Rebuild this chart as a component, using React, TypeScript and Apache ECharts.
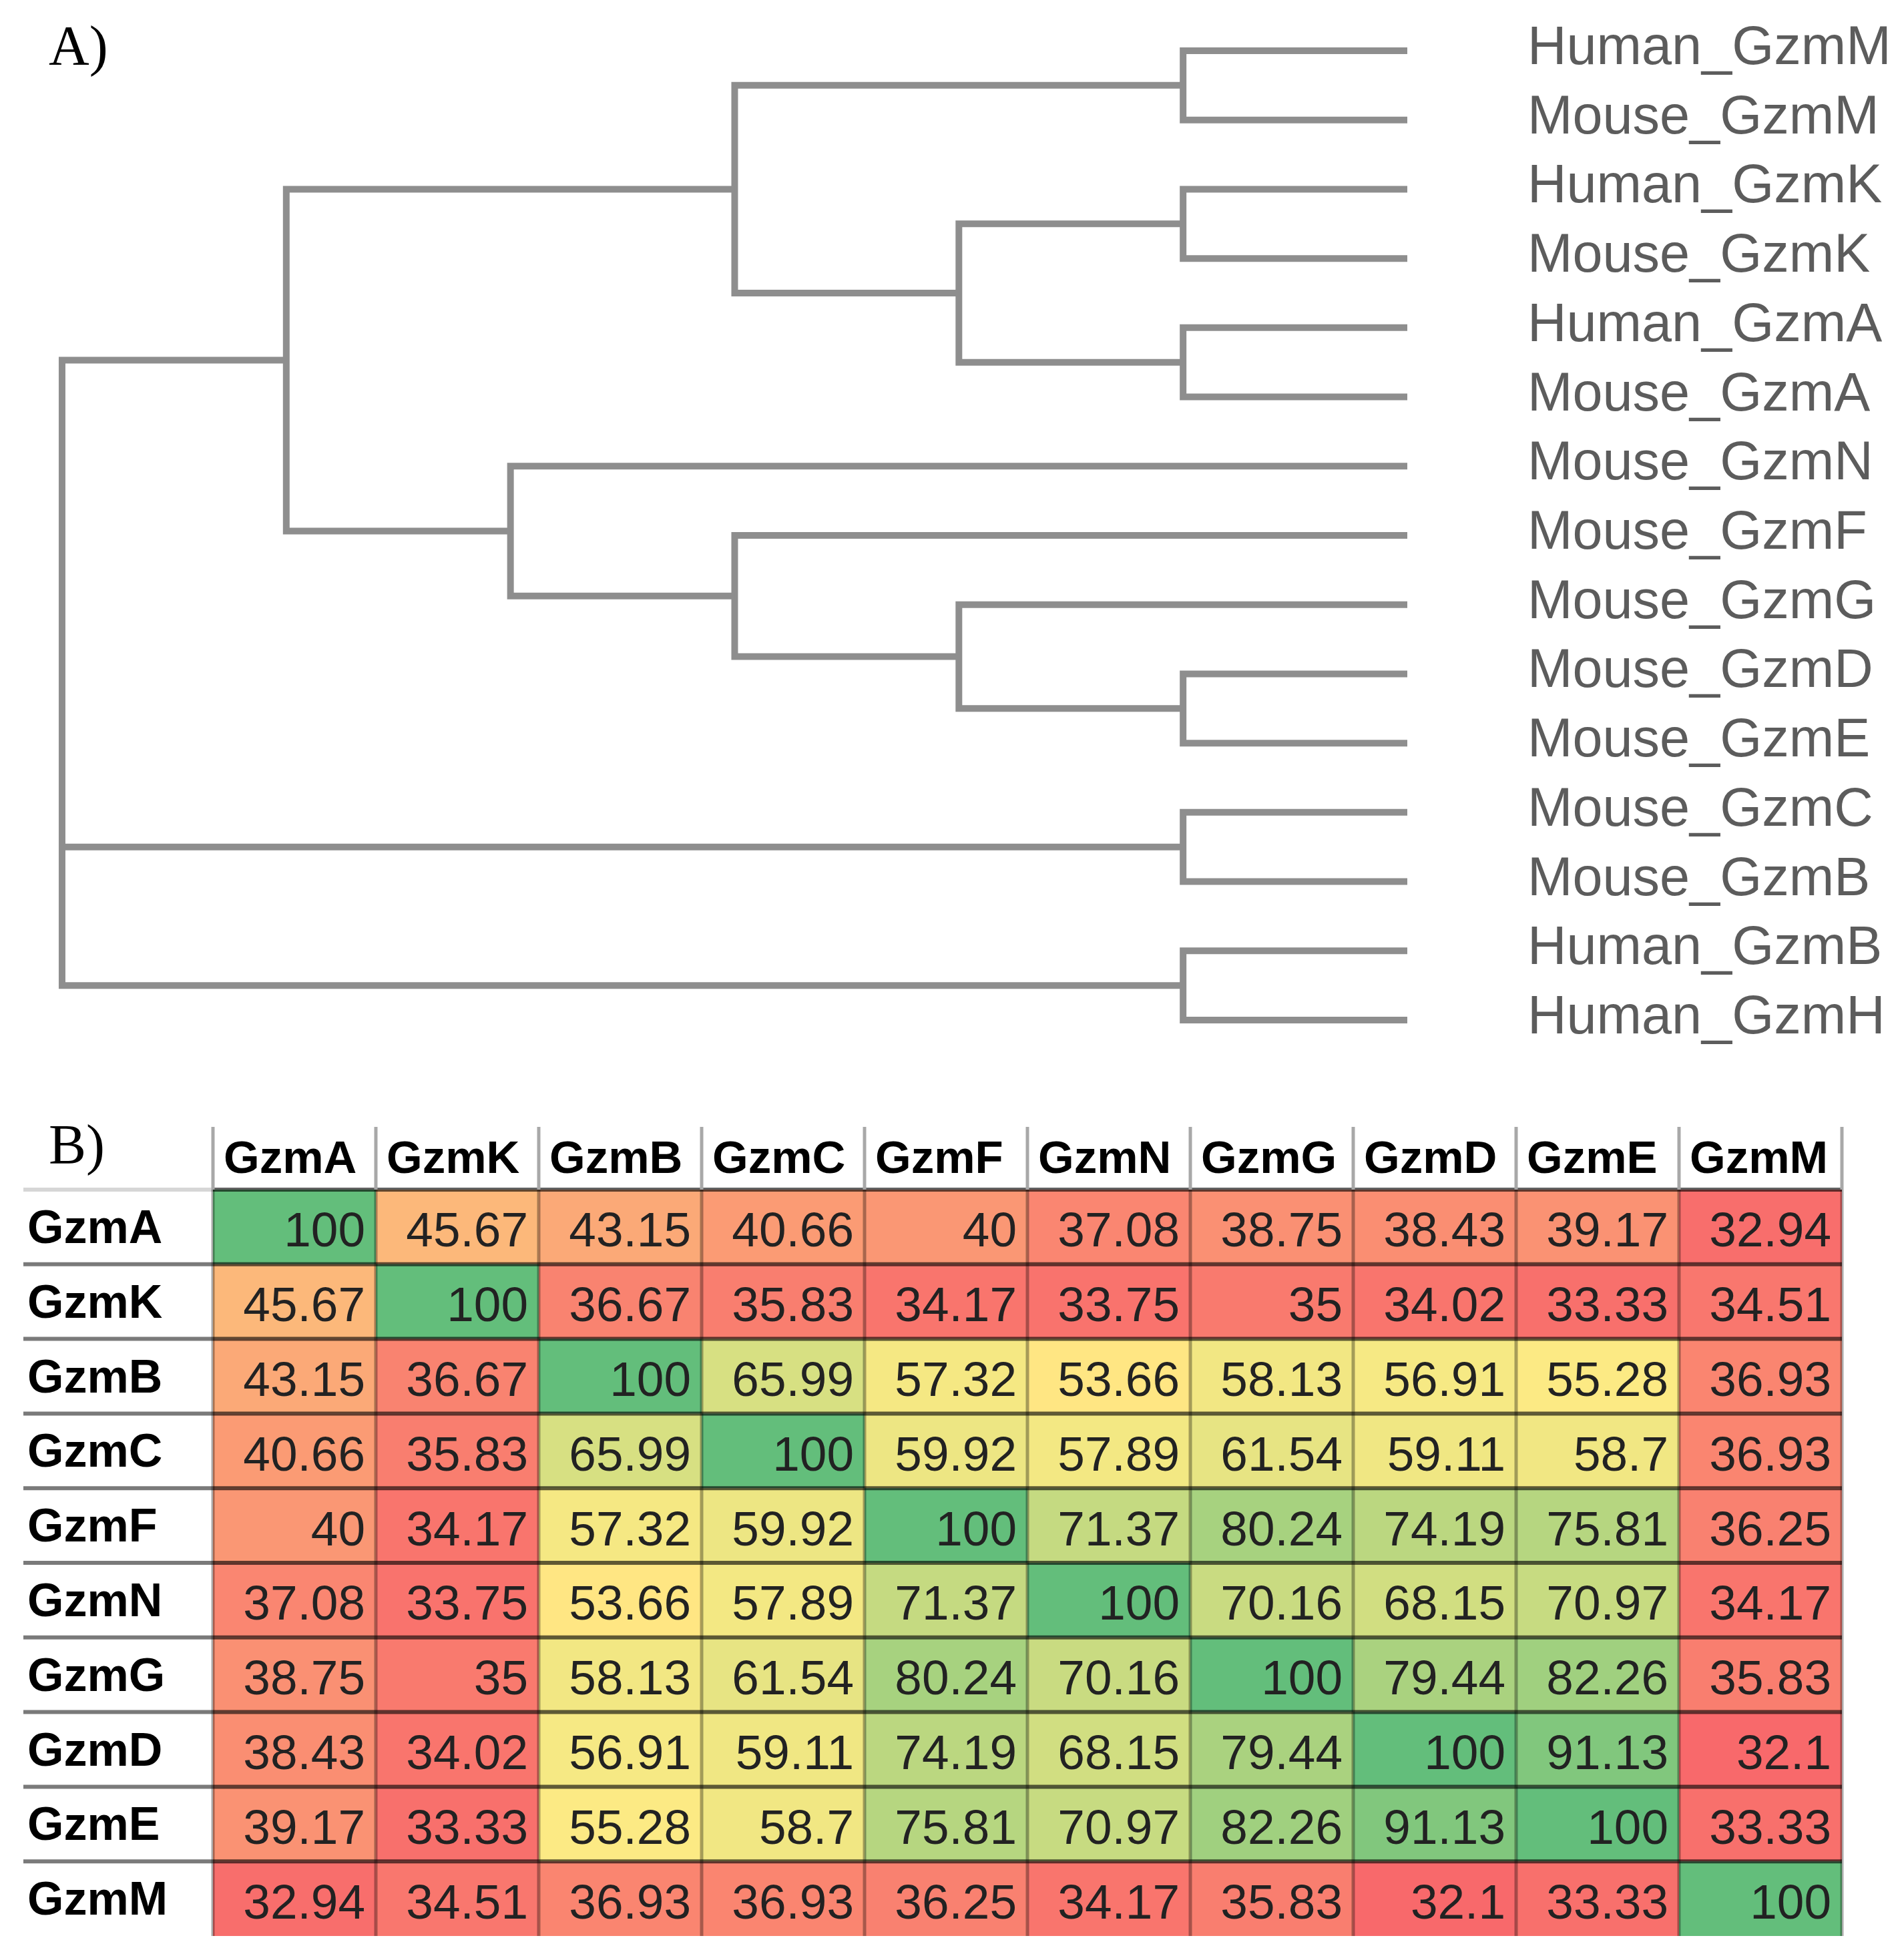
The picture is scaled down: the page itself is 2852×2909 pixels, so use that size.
import React, { useEffect, useRef } from "react";
import * as echarts from "echarts";

// ---------- Dendrogram data ----------
const leaves = [
  "Human_GzmM",
  "Mouse_GzmM",
  "Human_GzmK",
  "Mouse_GzmK",
  "Human_GzmA",
  "Mouse_GzmA",
  "Mouse_GzmN",
  "Mouse_GzmF",
  "Mouse_GzmG",
  "Mouse_GzmD",
  "Mouse_GzmE",
  "Mouse_GzmC",
  "Mouse_GzmB",
  "Human_GzmB",
  "Human_GzmH",
];

// [node name, children, merge height]
const merges: [string, string[], number][] = [
  ["n1", ["Human_GzmM", "Mouse_GzmM"], 1],
  ["n2", ["Human_GzmK", "Mouse_GzmK"], 1],
  ["n3", ["Human_GzmA", "Mouse_GzmA"], 1],
  ["n4", ["n2", "n3"], 2],
  ["n5", ["n1", "n4"], 3],
  ["n6", ["Mouse_GzmD", "Mouse_GzmE"], 1],
  ["n7", ["Mouse_GzmG", "n6"], 2],
  ["n8", ["Mouse_GzmF", "n7"], 3],
  ["n9", ["Mouse_GzmN", "n8"], 4],
  ["n10", ["n5", "n9"], 5],
  ["n11", ["Mouse_GzmC", "Mouse_GzmB"], 1],
  ["n12", ["Human_GzmB", "Human_GzmH"], 1],
  ["root", ["n10", "n11", "n12"], 6],
];

// ---------- Identity matrix data ----------
const columns = ["GzmA", "GzmK", "GzmB", "GzmC", "GzmF", "GzmN", "GzmG", "GzmD", "GzmE", "GzmM"];
const rowLabels = ["GzmA", "GzmK", "GzmB", "GzmC", "GzmF", "GzmN", "GzmG", "GzmD", "GzmE", "GzmM"];

const rowGzmA = [100, 45.67, 43.15, 40.66, 40, 37.08, 38.75, 38.43, 39.17, 32.94];
const rowGzmK = [45.67, 100, 36.67, 35.83, 34.17, 33.75, 35, 34.02, 33.33, 34.51];
const rowGzmB = [43.15, 36.67, 100, 65.99, 57.32, 53.66, 58.13, 56.91, 55.28, 36.93];
const rowGzmC = [40.66, 35.83, 65.99, 100, 59.92, 57.89, 61.54, 59.11, 58.7, 36.93];
const rowGzmF = [40, 34.17, 57.32, 59.92, 100, 71.37, 80.24, 74.19, 75.81, 36.25];
const rowGzmN = [37.08, 33.75, 53.66, 57.89, 71.37, 100, 70.16, 68.15, 70.97, 34.17];
const rowGzmG = [38.75, 35, 58.13, 61.54, 80.24, 70.16, 100, 79.44, 82.26, 35.83];
const rowGzmD = [38.43, 34.02, 56.91, 59.11, 74.19, 68.15, 79.44, 100, 91.13, 32.1];
const rowGzmE = [39.17, 33.33, 55.28, 58.7, 75.81, 70.97, 82.26, 91.13, 100, 33.33];
const rowGzmM = [32.94, 34.51, 36.93, 36.93, 36.25, 34.17, 35.83, 32.1, 33.33, 100];

const matrix = [rowGzmA, rowGzmK, rowGzmB, rowGzmC, rowGzmF, rowGzmN, rowGzmG, rowGzmD, rowGzmE, rowGzmM];

// ---------- styling constants ----------
const SANS = '"Liberation Sans", Arial, Helvetica, sans-serif';
const SERIF = '"Liberation Serif", "Times New Roman", serif';
const LOW = "#F8696B";
const MID = "#FFEB84";
const HIGH = "#63BE7B";

function hexToRgb(h: string) {
  return [parseInt(h.slice(1, 3), 16), parseInt(h.slice(3, 5), 16), parseInt(h.slice(5, 7), 16)];
}
function mix(a: string, b: string, t: number) {
  const A = hexToRgb(a);
  const B = hexToRgb(b);
  const c = A.map((v, i) => Math.round(v + (B[i] - v) * t));
  return `rgb(${c[0]},${c[1]},${c[2]})`;
}

function buildOption() {
  // dendrogram layout from tree structure
  const pos: Record<string, { x: number; y: number }> = {};
  leaves.forEach((n, i) => (pos[n] = { x: 0, y: i }));
  const links: { coords: number[][] }[] = [];
  merges.forEach(([name, kids, h]) => {
    const ch = kids.map((k) => pos[k]).sort((a, b) => a.y - b.y);
    const first = ch[0];
    const last = ch[ch.length - 1];
    links.push({
      coords: [
        [first.x, first.y],
        [h, first.y],
        [h, last.y],
        [last.x, last.y],
      ],
    });
    ch.slice(1, -1).forEach((c) => links.push({ coords: [[c.x, c.y], [h, c.y]] }));
    pos[name] = { x: h, y: (first.y + last.y) / 2 };
  });

  // Excel-like 3 colour scale (min / 50th percentile / max)
  const all = matrix.flat();
  const vmin = Math.min(...all);
  const vmax = Math.max(...all);
  const sorted = [...all].sort((a, b) => a - b);
  const p = 0.5 * (sorted.length - 1);
  const lo = Math.floor(p);
  const vmid = sorted[lo] + (p - lo) * (sorted[lo + 1] - sorted[lo]);
  const stops: string[] = [];
  const N = 240;
  for (let i = 0; i <= N; i++) {
    const v = vmin + ((vmax - vmin) * i) / N;
    stops.push(v <= vmid ? mix(LOW, MID, (v - vmin) / (vmid - vmin)) : mix(MID, HIGH, (v - vmid) / (vmax - vmid)));
  }

  const cellData: number[][] = [];
  matrix.forEach((row, r) => row.forEach((v, c) => cellData.push([c, r, v])));

  return {
    animation: false,
    backgroundColor: "#ffffff",
    graphic: [
      {
        type: "text",
        x: 73,
        y: 68,
        style: { text: "A)", fill: "#000", fontSize: 84, fontFamily: SERIF, align: "left", verticalAlign: "middle" },
      },
      {
        type: "text",
        x: 73,
        y: 1714,
        style: { text: "B)", fill: "#000", fontSize: 84, fontFamily: SERIF, align: "left", verticalAlign: "middle" },
      },
    ],
    grid: [
      { left: 25.8, top: 24.14, width: 2082.2, height: 1555.7 },
      { left: 319, top: 1782, width: 2440, height: 1118 },
    ],
    xAxis: [
      { gridIndex: 0, type: "value", min: 0, max: 6.2, inverse: true, show: false },
      {
        gridIndex: 1,
        type: "category",
        data: columns,
        position: "top",
        axisLine: { show: false },
        axisTick: { show: false },
        axisLabel: { show: false },
        splitLine: { show: false },
      },
    ],
    yAxis: [
      { gridIndex: 0, type: "value", min: -0.5, max: 14.5, inverse: true, show: false },
      {
        gridIndex: 1,
        type: "category",
        data: rowLabels,
        inverse: true,
        axisLine: { show: false },
        axisTick: { show: false },
        splitLine: { show: false },
        axisLabel: {
          show: true,
          align: "left",
          margin: 278,
          fontSize: 70,
          fontWeight: "bold",
          fontFamily: SANS,
          color: "#000",
        },
      },
    ],
    visualMap: [
      {
        type: "continuous",
        show: false,
        min: vmin,
        max: vmax,
        dimension: 2,
        seriesIndex: 2,
        inRange: { color: stops },
      },
    ],
    series: [
      {
        type: "lines",
        coordinateSystem: "cartesian2d",
        xAxisIndex: 0,
        yAxisIndex: 0,
        polyline: true,
        clip: false,
        silent: true,
        lineStyle: { color: "#8e8e8e", width: 10, opacity: 1, cap: "butt", join: "miter" },
        data: links,
      },
      {
        type: "scatter",
        xAxisIndex: 0,
        yAxisIndex: 0,
        clip: false,
        symbolSize: 2,
        itemStyle: { color: "rgba(0,0,0,0)" },
        silent: true,
        label: {
          show: true,
          position: "right",
          distance: 179,
          offset: [0, -8],
          formatter: (p: any) => leaves[p.dataIndex],
          fontSize: 81,
          fontFamily: SANS,
          color: "#333333",
        },
        data: leaves.map((_, i) => [0, i]),
      },
      {
        type: "custom",
        xAxisIndex: 1,
        yAxisIndex: 1,
        silent: true,
        renderItem: (params: any, api: any) => {
          const c = api.value(0);
          const r = api.value(1);
          const v = api.value(2);
          const pt = api.coord([c, r]);
          const sz = api.size([1, 1]);
          return {
            type: "group",
            children: [
              {
                type: "rect",
                shape: { x: pt[0] - sz[0] / 2, y: pt[1] - sz[1] / 2, width: sz[0], height: sz[1] },
                style: { fill: api.visual("color") },
              },
              {
                type: "text",
                x: pt[0] + sz[0] / 2 - 16,
                y: pt[1] + 4,
                style: {
                  text: String(v),
                  fill: "#222222",
                  fontSize: 73,
                  fontFamily: SANS,
                  align: "right",
                  verticalAlign: "middle",
                },
              },
            ],
          };
        },
        data: cellData,
      },
      {
        // horizontal row borders
        type: "custom",
        xAxisIndex: 1,
        yAxisIndex: 1,
        silent: true,
        z: 3,
        renderItem: (params: any, api: any) => {
          const r = api.value(0);
          const a = api.coord([0, r]);
          const b = api.coord([columns.length - 1, r]);
          const sz = api.size([1, 1]);
          const y = a[1] - sz[1] / 2;
          const x0 = a[0] - sz[0] / 2;
          const x1 = b[0] + sz[0] / 2;
          return {
            type: "group",
            children: [
              {
                type: "line",
                shape: { x1: 35, y1: y, x2: x0, y2: y },
                style: { stroke: r === 0 ? "#d6d6d6" : "#7a7a7a", lineWidth: 6 },
              },
              {
                type: "line",
                shape: { x1: x0, y1: y, x2: x1, y2: y },
                style: { stroke: "rgba(0,0,0,0.62)", lineWidth: 6 },
              },
            ],
          };
        },
        data: rowLabels.map((_, i) => [i]),
      },
      {
        // vertical column borders and header
        type: "custom",
        xAxisIndex: 1,
        yAxisIndex: 1,
        silent: true,
        z: 4,
        renderItem: (params: any, api: any) => {
          const c = api.value(0);
          const top = api.coord([c, 0]);
          const bot = api.coord([c, rowLabels.length - 1]);
          const sz = api.size([1, 1]);
          const yTop = top[1] - sz[1] / 2;
          const yBot = bot[1] + sz[1] / 2;
          const xs = [top[0] - sz[0] / 2];
          if (c === columns.length - 1) xs.push(top[0] + sz[0] / 2);
          const children: any[] = [];
          xs.forEach((x) => {
            children.push({
              type: "line",
              shape: { x1: x, y1: yTop - 94, x2: x, y2: yTop },
              style: { stroke: "#a8a8a8", lineWidth: 5 },
            });
            children.push({
              type: "line",
              shape: { x1: x, y1: yTop, x2: x, y2: yBot },
              style: { stroke: "rgba(0,0,0,0.33)", lineWidth: 5 },
            });
          });
          children.push({
            type: "text",
            x: top[0] - sz[0] / 2 + 16,
            y: yTop - 49,
            style: {
              text: columns[c],
              fill: "#000",
              fontSize: 69,
              fontWeight: "bold",
              fontFamily: SANS,
              align: "left",
              verticalAlign: "middle",
            },
          });
          return { type: "group", children };
        },
        data: columns.map((_, i) => [i]),
      },
    ],
  };
}

export default function App() {
  const ref = useRef<HTMLDivElement>(null);
  useEffect(() => {
    document.body.style.margin = "0";
    const chart = echarts.init(ref.current as HTMLDivElement, null, { renderer: "svg" });
    chart.setOption(buildOption() as any);
    return () => chart.dispose();
  }, []);
  return <div ref={ref} style={{ width: 2852, height: 2909 }} />;
}
